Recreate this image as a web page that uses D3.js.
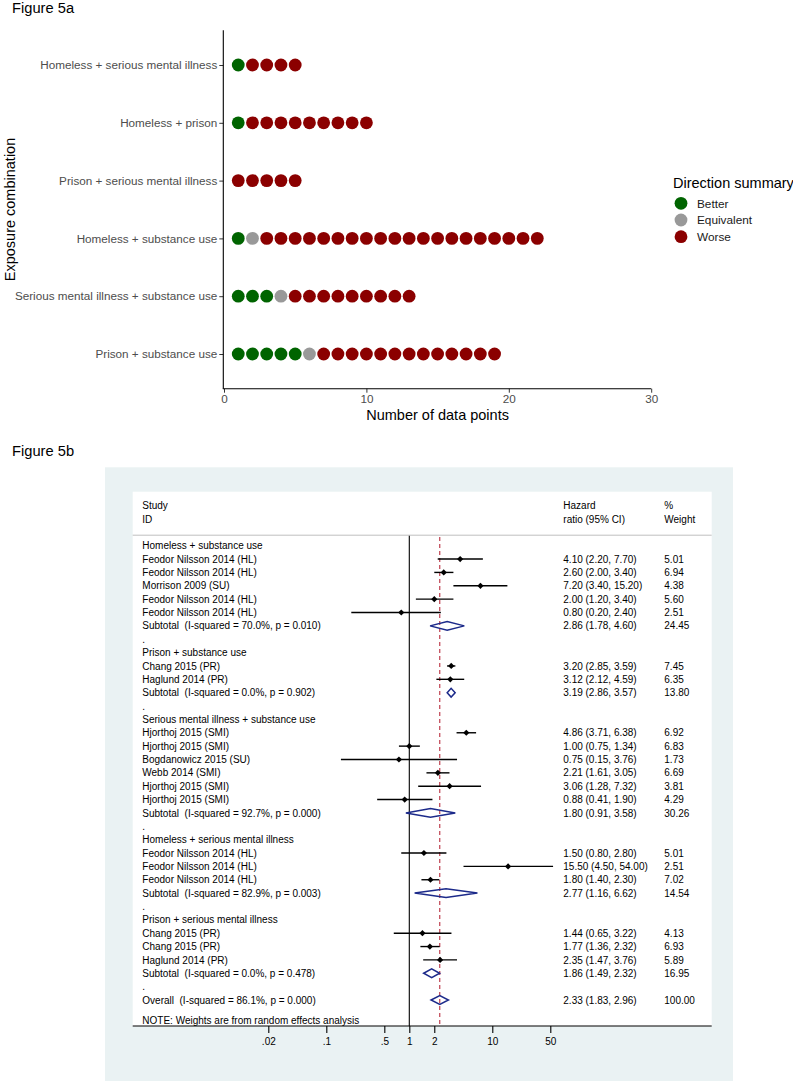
<!DOCTYPE html>
<html><head><meta charset="utf-8">
<script src="https://cdn.jsdelivr.net/npm/d3@7"></script>
<style>
html,body{margin:0;padding:0;background:#fff;}
svg{display:block;font-family:"Liberation Sans",Arial,sans-serif;}
text{white-space:pre;}
</style></head><body>
<svg id="chart" width="793" height="1081"></svg>
<script>
// ---------- Figure 5a data ----------
const categories5a = ["Homeless + serious mental illness","Homeless + prison","Prison + serious mental illness","Homeless + substance use","Serious mental illness + substance use","Prison + substance use"];
const betterCounts = [1,1,0,1,3,5];
const equivalentCounts = [0,0,0,1,1,1];
const worseCounts = [4,9,5,20,9,13];
const xTicks5a = [0,10,20,30];
const directionLevels = ["Better","Equivalent","Worse"];
const directionColors = ["#006400","#999999","#8B0000"];

// ---------- Figure 5b data ----------
const forestLabels = ["Homeless + substance use","Feodor Nilsson 2014 (HL)","Feodor Nilsson 2014 (HL)","Morrison 2009 (SU)","Feodor Nilsson 2014 (HL)","Feodor Nilsson 2014 (HL)","Subtotal  (I-squared = 70.0%, p = 0.010)",".",
"Prison + substance use","Chang 2015 (PR)","Haglund 2014 (PR)","Subtotal  (I-squared = 0.0%, p = 0.902)",".",
"Serious mental illness + substance use","Hjorthoj 2015 (SMI)","Hjorthoj 2015 (SMI)","Bogdanowicz 2015 (SU)","Webb 2014 (SMI)","Hjorthoj 2015 (SMI)","Hjorthoj 2015 (SMI)","Subtotal  (I-squared = 92.7%, p = 0.000)",".",
"Homeless + serious mental illness","Feodor Nilsson 2014 (HL)","Feodor Nilsson 2014 (HL)","Feodor Nilsson 2014 (HL)","Subtotal  (I-squared = 82.9%, p = 0.003)",".",
"Prison + serious mental illness","Chang 2015 (PR)","Chang 2015 (PR)","Haglund 2014 (PR)","Subtotal  (I-squared = 0.0%, p = 0.478)",".",
"Overall  (I-squared = 86.1%, p = 0.000)"];
const forestType = ["h","s","s","s","s","s","t","b","h","s","s","t","b","h","s","s","s","s","s","s","t","b","h","s","s","s","t","b","h","s","s","s","t","b","o"];
const forestHR = [null,4.10,2.60,7.20,2.00,0.80,2.86,null,null,3.20,3.12,3.19,null,null,4.86,1.00,0.75,2.21,3.06,0.88,1.80,null,null,1.50,15.50,1.80,2.77,null,null,1.44,1.77,2.35,1.86,null,2.33];
const forestLo = [null,2.20,2.00,3.40,1.20,0.20,1.78,null,null,2.85,2.12,2.86,null,null,3.71,0.75,0.15,1.61,1.28,0.41,0.91,null,null,0.80,4.50,1.40,1.16,null,null,0.65,1.36,1.47,1.49,null,1.83];
const forestHi = [null,7.70,3.40,15.20,3.40,2.40,4.60,null,null,3.59,4.59,3.57,null,null,6.38,1.34,3.76,3.05,7.32,1.90,3.58,null,null,2.80,54.00,2.30,6.62,null,null,3.22,2.32,3.76,2.32,null,2.96];
const forestWeight = [null,5.01,6.94,4.38,5.60,2.51,24.45,null,null,7.45,6.35,13.80,null,null,6.92,6.83,1.73,6.69,3.81,4.29,30.26,null,null,5.01,2.51,7.02,14.54,null,null,4.13,6.93,5.89,16.95,null,100.00];
const forestTicks = [0.02,0.1,0.5,1,2,10,50];
const forestTickLabels = [".02",".1",".5","1","2","10","50"];
const overallHR = 2.33;
const noteText = "NOTE: Weights are from random effects analysis";

const svg = d3.select("#chart");

// ================= Figure 5a =================
svg.append("text").attr("x",12).attr("y",13).attr("font-size",14.7).attr("fill","#000").text("Figure 5a");

const x5a = d3.scaleLinear().domain([0,30]).range([224,651.2]);
const y5a = d3.scalePoint().domain(categories5a).range([65,354]);
const axisTop = 30.3, axisBottom = 388.7;

// dots
const dots = [];
categories5a.forEach((c,i)=>{
  let n=0;
  const seq = [[0,betterCounts[i]],[1,equivalentCounts[i]],[2,worseCounts[i]]];
  seq.forEach(([k,cnt])=>{ for(let j=0;j<cnt;j++){ n++; dots.push({cat:c,pos:n,dir:k}); } });
});
svg.append("g").selectAll("circle").data(dots).join("circle")
  .attr("cx",d=>x5a(d.pos)).attr("cy",d=>y5a(d.cat)).attr("r",6.4)
  .attr("fill",d=>directionColors[d.dir]);

// y axis
const gy = svg.append("g").attr("transform",`translate(${x5a(0)-0.7},0)`)
  .call(d3.axisLeft(y5a).tickSize(4).tickPadding(2));
gy.select(".domain").remove();
gy.selectAll(".tick line").attr("stroke","#333").attr("stroke-width",1);
gy.selectAll(".tick text").attr("font-size",11.7).attr("fill","#4D4D4D").attr("font-family","Liberation Sans, Arial, sans-serif");
svg.append("line").attr("x1",x5a(0)-0.7).attr("x2",x5a(0)-0.7).attr("y1",axisTop).attr("y2",axisBottom).attr("stroke","#000").attr("stroke-width",1.1);

// x axis
const gx = svg.append("g").attr("transform",`translate(0,${axisBottom})`)
  .call(d3.axisBottom(x5a).tickValues(xTicks5a).tickSize(4).tickPadding(2));
gx.select(".domain").remove();
gx.selectAll(".tick line").attr("stroke","#333");
gx.selectAll(".tick text").attr("font-size",11.7).attr("fill","#4D4D4D").attr("font-family","Liberation Sans, Arial, sans-serif");
svg.append("line").attr("x1",x5a(0)-1.2).attr("x2",x5a(30)).attr("y1",axisBottom).attr("y2",axisBottom).attr("stroke","#000").attr("stroke-width",1.1);

svg.append("text").attr("x",(x5a(0)+x5a(30))/2).attr("y",420).attr("text-anchor","middle").attr("font-size",14.5).attr("fill","#000").text("Number of data points");
svg.append("text").attr("transform",`translate(15,${(axisTop+axisBottom)/2}) rotate(-90)`).attr("text-anchor","middle").attr("font-size",14.5).attr("fill","#000").text("Exposure combination");

// legend
svg.append("text").attr("x",673).attr("y",187.5).attr("font-size",14.5).attr("fill","#000").text("Direction summary");
const lg = svg.append("g").selectAll("g").data(directionLevels).join("g")
  .attr("transform",(d,i)=>`translate(681,${203.3+i*16.7})`);
lg.append("circle").attr("r",6.4).attr("fill",(d,i)=>directionColors[i]);
lg.append("text").attr("x",16).attr("y",4.2).attr("font-size",11.8).attr("fill","#1a1a1a").text(d=>d);

// ================= Figure 5b =================
svg.append("text").attr("x",12).attr("y",456).attr("font-size",14.7).attr("fill","#000").text("Figure 5b");
svg.append("rect").attr("x",105).attr("y",467.3).attr("width",628).attr("height",1081-467.3).attr("fill","#EAF2F3");
const plotL=132.7, plotR=711.7, plotT=491.7, plotB=1026;
svg.append("rect").attr("x",plotL).attr("y",plotT).attr("width",plotR-plotL).attr("height",plotB-plotT).attr("fill","#fff");

const xF = d3.scaleLog().domain([0.02,50]).range([268.3,550.3]);
const yF = d3.scaleLinear().domain([0,34]).range([545.7,1000]);
const fs = 10;
const colL=142.3, colHR=563.3, colW=664.3;

// header
const hdr = svg.append("g").attr("font-size",fs).attr("fill","#000");
hdr.append("text").attr("x",colL).attr("y",509.3).text("Study");
hdr.append("text").attr("x",colL).attr("y",522.5).text("ID");
hdr.append("text").attr("x",colHR).attr("y",509.3).text("Hazard");
hdr.append("text").attr("x",colHR).attr("y",522.5).text("ratio (95% CI)");
hdr.append("text").attr("x",colW).attr("y",509.3).text("%");
hdr.append("text").attr("x",colW).attr("y",522.5).text("Weight");
svg.append("line").attr("x1",plotL).attr("x2",plotR).attr("y1",535.2).attr("y2",535.2).attr("stroke","#BFBFBF").attr("stroke-width",1);

// reference lines
svg.append("line").attr("x1",xF(1)).attr("x2",xF(1)).attr("y1",535.7).attr("y2",plotB).attr("stroke","#000").attr("stroke-width",1.1);
svg.append("line").attr("x1",xF(overallHR)).attr("x2",xF(overallHR)).attr("y1",537).attr("y2",plotB).attr("stroke","#B2182B").attr("stroke-width",1).attr("stroke-dasharray","4,3");

const rows = forestLabels.map((l,i)=>({i,label:l,type:forestType[i],hr:forestHR[i],lo:forestLo[i],hi:forestHi[i],w:forestWeight[i]}));
const f2 = d3.format(".2f");

// labels
svg.append("g").attr("font-size",fs).attr("fill","#000").selectAll("text").data(rows).join("text")
  .attr("x",colL).attr("y",d=>yF(d.i)+3.6).text(d=>d.label);
svg.append("g").attr("font-size",fs).attr("fill","#000").selectAll("text").data(rows.filter(d=>d.hr!=null)).join("text")
  .attr("x",colHR).attr("y",d=>yF(d.i)+3.6).text(d=>`${f2(d.hr)} (${f2(d.lo)}, ${f2(d.hi)})`);
svg.append("g").attr("font-size",fs).attr("fill","#000").selectAll("text").data(rows.filter(d=>d.w!=null)).join("text")
  .attr("x",colW).attr("y",d=>yF(d.i)+3.6).text(d=>f2(d.w));
svg.append("text").attr("x",colL).attr("y",1023.8).attr("font-size",fs).attr("fill","#000").text(noteText);

// study CIs and markers
const studies = rows.filter(d=>d.type==="s");
svg.append("g").selectAll("line").data(studies).join("line")
  .attr("x1",d=>xF(d.lo)).attr("x2",d=>xF(d.hi)).attr("y1",d=>yF(d.i)).attr("y2",d=>yF(d.i))
  .attr("stroke","#000").attr("stroke-width",1.4);
svg.append("g").selectAll("path").data(studies).join("path")
  .attr("d",d=>{const x=xF(d.hr),y=yF(d.i),s=3.1;return `M${x-s},${y}L${x},${y-s}L${x+s},${y}L${x},${y+s}Z`;})
  .attr("fill","#000");

// pooled diamonds
const pooled = rows.filter(d=>d.type==="t"||d.type==="o");
svg.append("g").selectAll("path").data(pooled).join("path")
  .attr("d",d=>{const y=yF(d.i),h=4.4;return `M${xF(d.lo)},${y}L${xF(d.hr)},${y-h}L${xF(d.hi)},${y}L${xF(d.hr)},${y+h}Z`;})
  .attr("fill","none").attr("stroke","#1C2A8A").attr("stroke-width",1.5);

// forest axis
svg.append("line").attr("x1",plotL).attr("x2",plotR).attr("y1",plotB).attr("y2",plotB).attr("stroke","#000").attr("stroke-width",1.1);
const gf = svg.append("g").attr("transform",`translate(0,${plotB})`)
  .call(d3.axisBottom(xF).tickValues(forestTicks).tickFormat((d,i)=>forestTickLabels[i]).tickSize(7).tickPadding(5));
gf.select(".domain").remove();
gf.selectAll(".tick line").attr("stroke","#000").attr("stroke-width",1.1);
gf.selectAll(".tick text").attr("font-size",fs).attr("fill","#000").attr("font-family","Liberation Sans, Arial, sans-serif");
</script>
</body></html>
